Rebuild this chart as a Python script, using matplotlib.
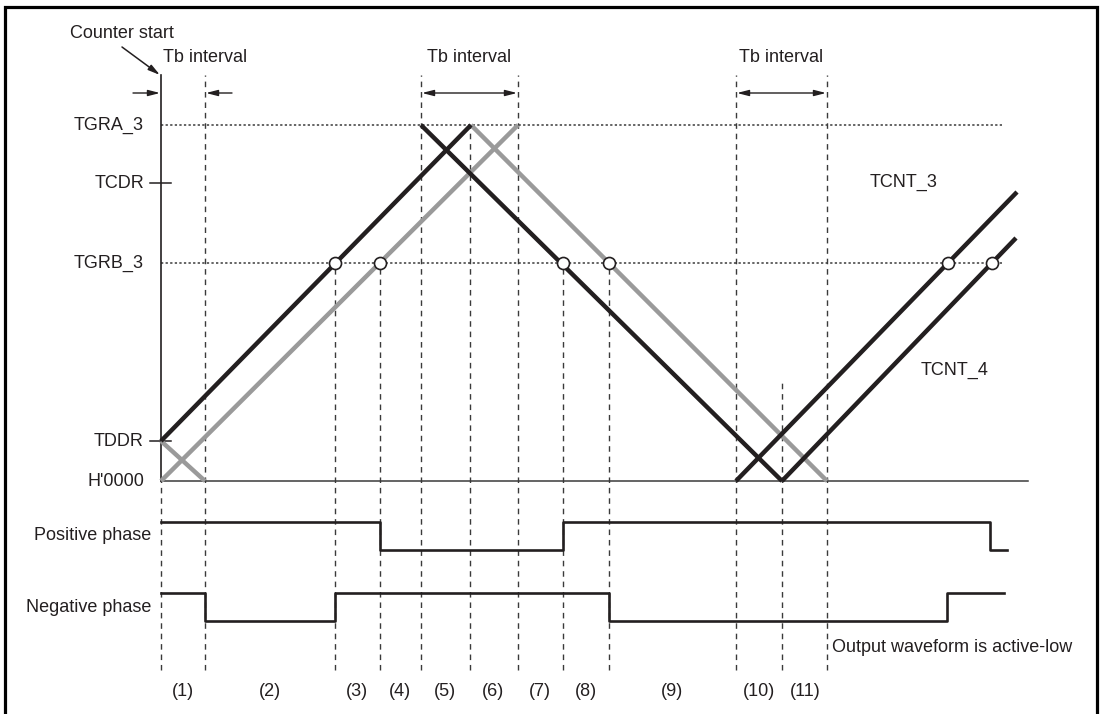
import matplotlib
matplotlib.use("Agg")
import matplotlib.pyplot as plt

plt.rcParams['font.family'] = ['Liberation Sans', 'DejaVu Sans']

# ---------------- data ----------------
# counter levels (arbitrary count units, H'0000 = 0)
level_names = ["H'0000", "TDDR", "TGRB_3", "TCDR", "TGRA_3"]
level_values = [0, 40, 218, 298, 356]

# time boundaries of the intervals (1)..(11)
boundaries = [0, 44, 174, 219, 260, 309, 357, 402, 448, 575, 621, 666]
boundary_tops = [406, 406, 218, 218, 406, 356, 406, 218, 218, 406, 101, 406]
interval_labels = ["(1)", "(2)", "(3)", "(4)", "(5)", "(6)", "(7)", "(8)", "(9)", "(10)", "(11)"]
interval_label_x = [22, 109, 196, 239, 284, 332, 379, 425, 511, 598, 644]

# counter segments (time, count)
black_segments = [
    ([0, 310], [40, 356]),
    ([260, 621], [356, 0]),
    ([575, 856], [0, 289]),
    ([621, 855], [0, 243]),
]
gray_segments = [
    ([0, 357], [0, 356]),
    ([310, 666], [356, 0]),
    ([0, 44], [40, 0]),
]
compare_t = [174, 219, 402, 448, 787, 831]

# output waveforms: step times and states (1 = high)
pos_t = [0, 219, 402, 829, 846]
pos_state = [1, 0, 1, 0, 0]
neg_t = [0, 44, 174, 448, 786, 843]
neg_state = [1, 0, 1, 0, 1, 1]

# Tb interval annotations (start, end)
tb_intervals = [(0, 44), (260, 357), (575, 666)]
tb_text_x = [44, 308, 620]

# ---------------- layout / style ----------------
BLACK = '#231f20'
GRAY = '#9a9a9a'
LINE = '#3a3a3a'
FS = 13

pos_hi, pos_lo = -41, -69
neg_hi, neg_lo = -112, -140
dash_bottom = -189

fig = plt.figure(figsize=(11.02, 7.14), dpi=100)
ax = fig.add_axes([0, 0, 1, 1])
ax.set_xlim(-161, 941)
ax.set_ylim(-233, 481)
ax.axis('off')

# border (left, top, right; bottom edge cut off)
ax.plot([-155.5, -155.5, 935.5, 935.5], [-240, 474.5, 474.5, -240],
        color='black', lw=2.3, solid_joinstyle='miter', zorder=10, clip_on=False)

# vertical axis and baseline
ax.plot([0, 0], [0, 406], color=BLACK, lw=1.2, zorder=3)
ax.plot([0, 867], [0, 0], color=LINE, lw=1.1, zorder=2)

# dotted compare levels
for name in ["TGRA_3", "TGRB_3"]:
    v = level_values[level_names.index(name)]
    ax.plot([0, 841], [v, v], color=LINE, lw=1.1, linestyle=(0, (1.5, 1.5)), zorder=1)

# ticks for TCDR and TDDR
for name in ["TCDR", "TDDR"]:
    v = level_values[level_names.index(name)]
    ax.plot([-11, 10], [v, v], color=BLACK, lw=1.1, zorder=3)

# level labels
for name, v in zip(level_names, level_values):
    ax.text(-17, v, name, ha='right', va='center', fontsize=FS, color=BLACK)

# dashed vertical boundaries
for t, top in zip(boundaries, boundary_tops):
    if t == 0:
        top = 0
    ax.plot([t, t], [dash_bottom, top], color=LINE, lw=1.0,
            linestyle=(0, (4, 3.5)), zorder=1)

# counters
for xs, ys in gray_segments:
    ax.plot(xs, ys, color=GRAY, lw=3.2, solid_capstyle='butt', zorder=4)
for xs, ys in black_segments:
    ax.plot(xs, ys, color=BLACK, lw=3.2, solid_capstyle='butt', zorder=5)

# compare-match circles
tgrb = level_values[level_names.index("TGRB_3")]
ax.scatter(compare_t, [tgrb] * len(compare_t), s=75, facecolor='white',
           edgecolor=BLACK, linewidth=1.2, zorder=6)

# waveforms
pos_y = [pos_hi if s else pos_lo for s in pos_state]
neg_y = [neg_hi if s else neg_lo for s in neg_state]
ax.step(pos_t, pos_y, where='post', color=BLACK, lw=1.9, zorder=4)
ax.step(neg_t, neg_y, where='post', color=BLACK, lw=1.9, zorder=4)
ax.text(-10, -54, "Positive phase", ha='right', va='center', fontsize=FS, color=BLACK)
ax.text(-10, -126, "Negative phase", ha='right', va='center', fontsize=FS, color=BLACK)

# interval labels
for lab, x in zip(interval_labels, interval_label_x):
    ax.text(x, -211, lab, ha='center', va='center', fontsize=FS, color=BLACK)

ax.text(671, -166, "Output waveform is active-low", ha='left', va='center',
        fontsize=FS, color=BLACK)

# counter names
ax.text(709, 299, "TCNT_3", ha='left', va='center', fontsize=FS, color=BLACK)
ax.text(760, 111, "TCNT_4", ha='left', va='center', fontsize=FS, color=BLACK)

# Tb interval annotations
arrow_y = 388
akw = dict(arrowstyle='-|>,head_length=0.7,head_width=0.18', color=BLACK, lw=1.0,
           shrinkA=0, shrinkB=0)
for (a, b), tx in zip(tb_intervals, tb_text_x):
    ax.text(tx, 423, "Tb interval", ha='center', va='center', fontsize=FS, color=BLACK)
    if b - a < 60:
        ax.annotate('', xy=(a - 1, arrow_y), xytext=(a - 28, arrow_y), arrowprops=akw)
        ax.annotate('', xy=(b + 1, arrow_y), xytext=(b + 27, arrow_y), arrowprops=akw)
    else:
        ax.annotate('', xy=(b - 1, arrow_y), xytext=(a + 1, arrow_y),
                    arrowprops=dict(akw, arrowstyle='<|-|>,head_length=0.7,head_width=0.18'))

# counter start annotation
ax.text(-39, 448, "Counter start", ha='center', va='center', fontsize=FS, color=BLACK)
ax.annotate('', xy=(-1, 406), xytext=(-39, 434),
            arrowprops=dict(akw, lw=1.1))

fig.savefig('out.png', dpi=100)
